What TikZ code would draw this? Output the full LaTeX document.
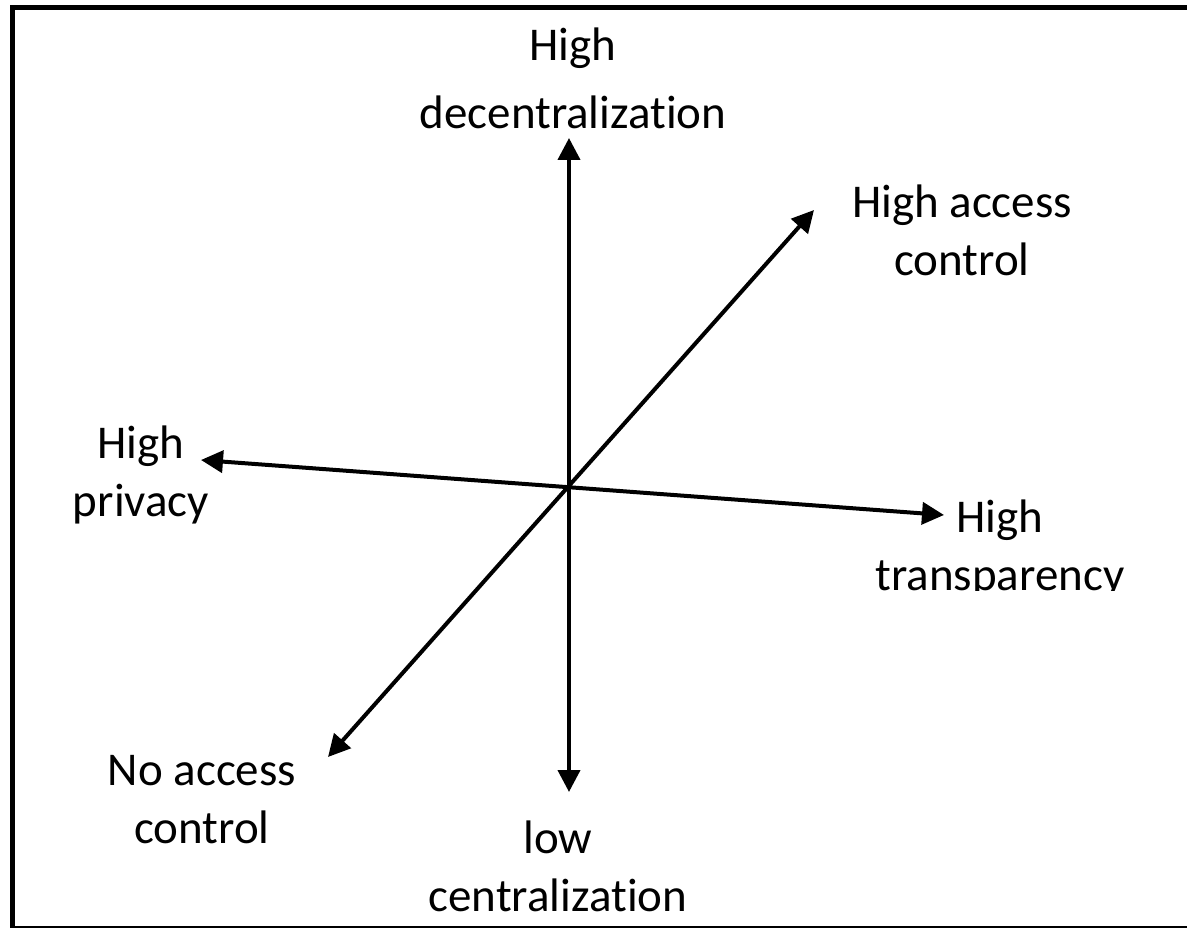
\documentclass[tikz,border=0pt]{standalone}
\usepackage{fontspec}
\setmainfont{Carlito}[Ligatures=NoCommon]
\usetikzlibrary{arrows.meta}
\begin{document}
\begin{tikzpicture}[x=1pt,y=-1pt,
  lbl/.style={align=center,inner sep=0pt,font=\fontsize{47}{58}\selectfont},
  lblwide/.style={align=center,inner sep=0pt,font=\fontsize{47}{68}\selectfont},
  axis/.style={line width=4pt,{Triangle[length=22pt,width=22pt]}-{Triangle[length=22pt,width=22pt]}}]
\useasboundingbox (0,0) rectangle (1187,928);
\clip (0,0) rectangle (1187,928);
\fill[white] (0,0) rectangle (1187,928);
\draw[line width=5pt] (1200,7.5) -- (12.5,7.5) -- (12.5,928.5) -- (1200,928.5);
% axis end points
\coordinate (top) at (569,138);
\coordinate (bot) at (569,792);
\coordinate (lft) at (201,460);
\coordinate (rgt) at (944,515);
\coordinate (ur) at (814,210);
\coordinate (ll) at (328,757);
\draw[axis] (bot) -- (top);
\draw[axis] (lft) -- (rgt);
\draw[axis] (ll) -- (ur);
% labels
\node[lblwide] (ldec) at (573,78) {High\\decentralization};
\node[lbl] (lacc) at (962,230) {High access\\control};
\node[lbl] (lpriv) at (141,475) {High\\privacy};
\begin{scope}
\clip (820,480) rectangle (1187,590);
\node[lbl] (ltrans) at (1000,549) {High\\transparency};
\end{scope}
\node[lbl] (lnoacc) at (202,800) {No access\\control};
\node[lbl] (lcen) at (558,866) {low\\centralization};
\end{tikzpicture}
\end{document}
